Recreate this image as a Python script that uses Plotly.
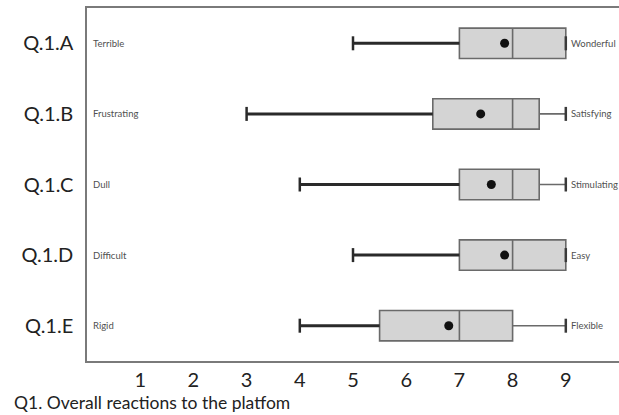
import plotly.graph_objects as go

questions = ["Q.1.A", "Q.1.B", "Q.1.C", "Q.1.D", "Q.1.E"]
left_labels = ["Terrible", "Frustrating", "Dull", "Difficult", "Rigid"]
right_labels = ["Wonderful", "Satisfying", "Stimulating", "Easy", "Flexible"]
lower = [5, 3, 4, 5, 4]
q1 = [7, 6.5, 7, 7, 5.5]
median = [8, 8, 8, 8, 7]
q3 = [9, 8.5, 8.5, 9, 8]
upper = [9, 9, 9, 9, 9]
mean = [7.85, 7.4, 7.6, 7.85, 6.8]
x_ticks = [1, 2, 3, 4, 5, 6, 7, 8, 9]

pos = list(range(len(questions)))
FONT = "Lato, 'Open Sans', sans-serif"

fig = go.Figure()
fig.add_trace(go.Box(
    y=pos, q1=q1, median=median, q3=q3, lowerfence=q1, upperfence=upper,
    orientation="h", width=0.43, whiskerwidth=0,
    fillcolor="#d4d4d4", line=dict(color="#6a6a6a", width=1.6),
    boxpoints=False, hoverinfo="skip", showlegend=False,
))
# lower whiskers (thick dark)
for i in pos:
    fig.add_trace(go.Scatter(x=[lower[i], q1[i]], y=[i, i], mode="lines",
                             line=dict(color="#2a2a2a", width=3), showlegend=False, hoverinfo="skip"))
# caps
fig.add_trace(go.Scatter(x=lower, y=pos, mode="markers",
                         marker=dict(symbol="line-ns", size=10, line=dict(color="#2a2a2a", width=2.5)),
                         showlegend=False, hoverinfo="skip"))
fig.add_trace(go.Scatter(x=upper, y=pos, mode="markers",
                         marker=dict(symbol="line-ns", size=10, line=dict(color="#3a3a3a", width=2.5)),
                         showlegend=False, hoverinfo="skip"))
# means
fig.add_trace(go.Scatter(x=mean, y=pos, mode="markers",
                         marker=dict(symbol="circle", size=9, color="#111111"),
                         showlegend=False, hoverinfo="skip"))

for i in pos:
    fig.add_annotation(x=0.07, y=i, text=left_labels[i], showarrow=False, xanchor="left",
                       font=dict(size=9.5, color="#505050", family=FONT))
    fig.add_annotation(x=upper[i] + 0.06, y=i, text=right_labels[i], showarrow=False, xanchor="left",
                       font=dict(size=9.5, color="#505050", family=FONT))

fig.add_annotation(xref="paper", yref="paper", x=-0.141, y=-0.082, xanchor="left", yanchor="top",
                   text="Q1. Overall reactions to the platfom", showarrow=False,
                   font=dict(size=17.5, color="#222222", family=FONT))

fig.update_xaxes(range=[0, 10], tickvals=x_ticks, showgrid=False, zeroline=False,
                 showline=True, linecolor="#7a7a7a", linewidth=1.5, mirror=True,
                 tickfont=dict(size=20, color="#222222", family=FONT), ticks="")
fig.update_yaxes(range=[4.5, -0.5], tickvals=pos, ticktext=questions, showgrid=False,
                 zeroline=False, showline=True, linecolor="#7a7a7a", linewidth=1.5,
                 tickfont=dict(size=20, color="#222222", family=FONT), ticks="",
                 ticklabelstandoff=8)
fig.update_layout(width=619, height=415, margin=dict(l=87, r=0, t=8, b=54),
                  plot_bgcolor="white", paper_bgcolor="white")
fig.write_html("out.html", config={"displayModeBar": False},
               post_script="document.body.style.margin='0';document.body.style.overflow='hidden';")
